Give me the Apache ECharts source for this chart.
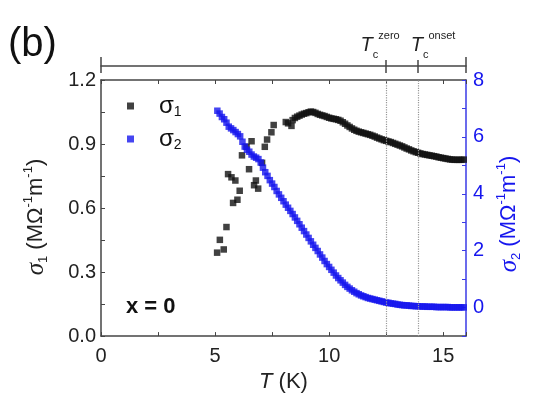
<!DOCTYPE html>
<html>
<head>
<meta charset="utf-8">
<script src="https://cdn.jsdelivr.net/npm/echarts@6/dist/echarts.min.js"></script>
<style>
  html, body { margin: 0; padding: 0; background: #fff; }
  #chart { width: 537px; height: 398px; }
</style>
</head>
<body>
<div id="chart"></div>
<script>
// sigma_1 (left axis): scattered points below ~8 K, then the dense curve
const sigma1T = [
  5.09, 5.21, 5.38, 5.50, 5.57, 5.72, 5.79, 5.89, 5.98, 6.08,
  6.18, 6.38, 6.49, 6.60, 6.71, 6.79, 6.89, 7.06, 7.18, 7.28,
  7.47, 7.57, 8.10, 8.20, 8.35,
  8.4, 8.5, 8.6, 8.7, 8.8, 8.9, 9.0,
  9.1, 9.2, 9.3, 9.4, 9.5, 9.6, 9.7, 9.8, 9.9, 10.0,
  10.1, 10.2, 10.3, 10.4, 10.5, 10.6, 10.7, 10.8, 10.9, 11.0,
  11.1, 11.2, 11.3, 11.4, 11.5, 11.6, 11.7, 11.8, 11.9, 12.0,
  12.1, 12.2, 12.3, 12.4, 12.5, 12.6, 12.7, 12.8, 12.9, 13.0,
  13.1, 13.2, 13.3, 13.4, 13.5, 13.6, 13.7, 13.8, 13.9, 14.0,
  14.1, 14.2, 14.3, 14.4, 14.5, 14.6, 14.7, 14.8, 14.9, 15.0,
  15.1, 15.2, 15.3, 15.4, 15.5, 15.6, 15.7, 15.8, 15.9
];
const sigma1 = [
  0.391, 0.451, 0.406, 0.511, 0.759, 0.744, 0.624, 0.729, 0.639, 0.681,
  0.847, 0.887, 0.782, 0.913, 0.707, 0.729, 0.691, 0.812, 0.887, 0.921,
  0.955, 0.989, 1.003, 0.997, 0.985,
  1.012, 1.022, 1.028, 1.033, 1.038, 1.042, 1.045,
  1.049, 1.052, 1.050, 1.046, 1.041, 1.037, 1.034, 1.031, 1.027, 1.023,
  1.020, 1.018, 1.016, 1.013, 1.009, 1.002, 0.995, 0.987, 0.980, 0.973,
  0.967, 0.962, 0.958, 0.955, 0.952, 0.949, 0.946, 0.943, 0.939, 0.935,
  0.930, 0.926, 0.922, 0.918, 0.915, 0.912, 0.909, 0.905, 0.901, 0.897,
  0.893, 0.889, 0.884, 0.879, 0.875, 0.870, 0.866, 0.862, 0.859, 0.856,
  0.853, 0.851, 0.849, 0.847, 0.845, 0.843, 0.841, 0.838, 0.836, 0.834,
  0.832, 0.830, 0.828, 0.827, 0.826, 0.826, 0.826, 0.826, 0.827
];

// sigma_2 (right axis)
const sigma2T = [
  5.1, 5.2, 5.3, 5.4, 5.5, 5.6, 5.7, 5.8, 5.9, 6.0,
  6.1, 6.2, 6.3, 6.4, 6.5, 6.6, 6.7, 6.8, 6.9, 7.0,
  7.1, 7.2, 7.3, 7.4, 7.5, 7.6, 7.7, 7.8, 7.9, 8.0,
  8.1, 8.2, 8.3, 8.4, 8.5, 8.6, 8.7, 8.8, 8.9, 9.0,
  9.1, 9.2, 9.3, 9.4, 9.5, 9.6, 9.7, 9.8, 9.9, 10.0,
  10.1, 10.2, 10.3, 10.4, 10.5, 10.6, 10.7, 10.8, 10.9, 11.0,
  11.1, 11.2, 11.3, 11.4, 11.5, 11.6, 11.7, 11.8, 11.9, 12.0,
  12.1, 12.2, 12.3, 12.4, 12.5, 12.6, 12.7, 12.8, 12.9, 13.0,
  13.1, 13.2, 13.3, 13.4, 13.5, 13.6, 13.7, 13.8, 13.9, 14.0,
  14.1, 14.2, 14.3, 14.4, 14.5, 14.6, 14.7, 14.8, 14.9, 15.0,
  15.1, 15.2, 15.3, 15.4, 15.5, 15.6, 15.7, 15.8, 15.9
];
const sigma2 = [
  6.92, 6.82, 6.70, 6.62, 6.50, 6.36, 6.30, 6.24, 6.17, 6.10,
  6.02, 5.83, 5.66, 5.55, 5.48, 5.38, 5.31, 5.27, 5.22, 5.10,
  4.92, 4.76, 4.63, 4.48, 4.36, 4.24, 4.10, 3.98, 3.86, 3.74,
  3.62, 3.51, 3.40, 3.29, 3.17, 3.05, 2.93, 2.81, 2.69, 2.57,
  2.45, 2.33, 2.21, 2.10, 1.99, 1.87, 1.76, 1.64, 1.53, 1.43,
  1.33, 1.23, 1.13, 1.04, 0.96, 0.88, 0.80, 0.73, 0.67, 0.61,
  0.56, 0.51, 0.47, 0.43, 0.40, 0.37, 0.34, 0.32, 0.30, 0.28,
  0.26, 0.24, 0.22, 0.20, 0.18, 0.17, 0.15, 0.14, 0.13, 0.11,
  0.10, 0.09, 0.08, 0.08, 0.07, 0.06, 0.06, 0.05, 0.05, 0.04,
  0.04, 0.04, 0.03, 0.03, 0.03, 0.03, 0.02, 0.02, 0.02, 0.02,
  0.02, 0.02, 0.01, 0.01, 0.01, 0.01, 0.01, 0.01, 0.01
];

const xLabels = [0, 5, 10, 15];
const y1Labels = [0, 0.3, 0.6, 0.9, 1.2];
const y2Labels = [0, 2, 4, 6, 8];
const tcValues = [12.5, 13.9];
const tcNames = ['zero', 'onset'];

const FONT = 'Liberation Sans, Arial, sans-serif';
const INK = '#222';
const AXIS = '#454545';
const BLUE = '#1616ee';
const BLUE_AXIS = '#3a3ae6';

const zip = (xs, ys) => xs.map((x, i) => [x, ys[i]]);

const unitRich = (color) => ({
  g: { fontFamily: 'Liberation Serif, serif', fontStyle: 'italic', fontSize: 25, lineHeight: 28, color },
  sub: { fontSize: 13, lineHeight: 10, verticalAlign: 'bottom', color },
  sup: { fontSize: 13, lineHeight: 10, verticalAlign: 'top', color },
  t: { fontSize: 22, lineHeight: 28, color }
});

const tcRich = {
  t: { fontStyle: 'italic', fontSize: 20, lineHeight: 30, color: INK },
  c: { fontSize: 11, lineHeight: 11, verticalAlign: 'bottom', color: INK },
  u: { fontSize: 11, lineHeight: 15, verticalAlign: 'top', color: INK },
  pr: { width: 12 },
  pl: { width: 30 }
};

const chart = echarts.init(document.getElementById('chart'));

chart.setOption({
  animation: false,
  textStyle: { fontFamily: FONT },
  title: [
    { text: '(b)', left: 8, top: 25, padding: 0, textStyle: { fontSize: 40, fontWeight: 'normal', color: '#111' } },
    { text: 'x = 0', left: 126, top: 296, padding: 0, textStyle: { fontSize: 22, fontWeight: 'bold', color: '#111' } }
  ],
  legend: {
    orient: 'vertical',
    left: 122,
    top: 89,
    icon: 'rect',
    itemWidth: 7,
    itemHeight: 7,
    itemGap: 8,
    data: ['σ1', 'σ2'],
    formatter: name => '{sp|}{g|σ}{sub|' + name.slice(1) + '}',
    textStyle: {
      color: '#111',
      rich: {
        sp: { width: 20 },
        g: { fontSize: 24, lineHeight: 26 },
        sub: { fontSize: 14, lineHeight: 12, verticalAlign: 'bottom' }
      }
    }
  },
  grid: [
    { left: 101, right: 71, top: 80, bottom: 53 },
    { left: 101, right: 71, top: 66, height: 1 }
  ],
  xAxis: [
    {
      type: 'value', gridIndex: 0, position: 'bottom', min: 0, max: 16, interval: 2.5,
      axisLine: { onZero: false, lineStyle: { color: AXIS, width: 1.5 } },
      axisTick: { inside: true, length: 4, lineStyle: { color: AXIS } },
      axisLabel: { customValues: xLabels, fontSize: 20, color: INK, margin: 10 },
      splitLine: { show: false },
      name: '{it|T}{t| (K)}',
      nameLocation: 'middle',
      nameGap: 24,
      nameTextStyle: {
        rich: {
          it: { fontStyle: 'italic', fontSize: 22, color: INK },
          t: { fontSize: 22, color: INK }
        }
      }
    },
    {
      type: 'value', gridIndex: 0, position: 'top', min: 0, max: 16, interval: 2.5,
      axisLine: { onZero: false, lineStyle: { color: AXIS, width: 1.5 } },
      axisTick: { inside: true, length: 4, lineStyle: { color: AXIS } },
      axisLabel: { show: false },
      splitLine: { show: false }
    },
    // bar above the plot marking the two transition temperatures
    {
      type: 'value', gridIndex: 1, position: 'top', min: 0, max: 16,
      axisLine: { onZero: false, lineStyle: { color: AXIS, width: 1.5 } },
      axisTick: { inside: true, length: 7, customValues: [0, 12.5, 13.9, 16], lineStyle: { color: AXIS, width: 1.5 } },
      axisLabel: {
        customValues: [tcValues[0]],
        margin: 6,
        hideOverlap: false,
        formatter: () => '{t|T}{c|c}{u|' + tcNames[0] + '}{pr|}',
        rich: tcRich
      },
      splitLine: { show: false }
    },
    {
      type: 'value', gridIndex: 1, position: 'top', min: 0, max: 16,
      axisLine: { show: false },
      axisTick: { show: true, length: 10, customValues: [0, 16], lineStyle: { color: AXIS, width: 1.5 } },
      axisLabel: { show: false },
      splitLine: { show: false }
    },
    {
      type: 'value', gridIndex: 1, position: 'top', min: 0, max: 16,
      axisLine: { show: false },
      axisTick: { show: true, length: 6, customValues: tcValues, lineStyle: { color: AXIS, width: 1.5 } },
      axisLabel: {
        customValues: [tcValues[1]],
        margin: 6,
        hideOverlap: false,
        formatter: () => '{pl|}{t|T}{c|c}{u|' + tcNames[1] + '}',
        rich: tcRich
      },
      splitLine: { show: false }
    }
  ],
  yAxis: [
    {
      type: 'value', gridIndex: 0, position: 'left', min: 0, max: 1.2, interval: 0.15,
      axisLine: { show: true, onZero: false, lineStyle: { color: AXIS, width: 1.5 } },
      axisTick: { show: true, inside: true, length: 4, lineStyle: { color: AXIS } },
      axisLabel: { customValues: y1Labels, formatter: v => v.toFixed(1), fontSize: 20, color: INK, margin: 5 },
      splitLine: { show: false },
      name: '{g|σ}{sub|1}{t| (MΩ}{sup|-1}{t|m}{sup|-1}{t|)}',
      nameLocation: 'middle',
      nameRotate: 90,
      nameGap: 51,
      nameTextStyle: { padding: [0, 18, 0, 0], rich: unitRich(INK) }
    },
    {
      type: 'value', gridIndex: 0, position: 'right', min: -1, max: 8, interval: 1,
      axisLine: { show: true, onZero: false, lineStyle: { color: BLUE_AXIS, width: 1.5 } },
      axisTick: { show: true, inside: true, length: 4, lineStyle: { color: BLUE_AXIS } },
      axisLabel: { customValues: y2Labels, fontSize: 20, color: BLUE, margin: 7 },
      splitLine: { show: false },
      name: '{g|σ}{sub|2}{t| (MΩ}{sup|-1}{t|m}{sup|-1}{t|)}',
      nameLocation: 'middle',
      nameRotate: 90,
      nameGap: 21,
      nameTextStyle: { padding: [0, 12, 0, 0], rich: unitRich(BLUE) }
    },
    { type: 'value', gridIndex: 1, min: 0, max: 1, show: false }
  ],
  series: [
    {
      name: 'σ1',
      type: 'scatter',
      xAxisIndex: 0,
      yAxisIndex: 0,
      symbol: 'rect',
      symbolSize: 6.5,
      itemStyle: { color: '#111' },
      data: zip(sigma1T, sigma1),
      markLine: {
        silent: true,
        symbol: ['none', 'none'],
        label: { show: false },
        lineStyle: { color: '#999', type: 'dotted', width: 1.2 },
        data: tcValues.map(v => ({ xAxis: v }))
      }
    },
    {
      name: 'σ2',
      type: 'scatter',
      xAxisIndex: 0,
      yAxisIndex: 1,
      symbol: 'rect',
      symbolSize: 6.5,
      itemStyle: { color: BLUE },
      data: zip(sigma2T, sigma2)
    }
  ]
});
</script>
</body>
</html>
